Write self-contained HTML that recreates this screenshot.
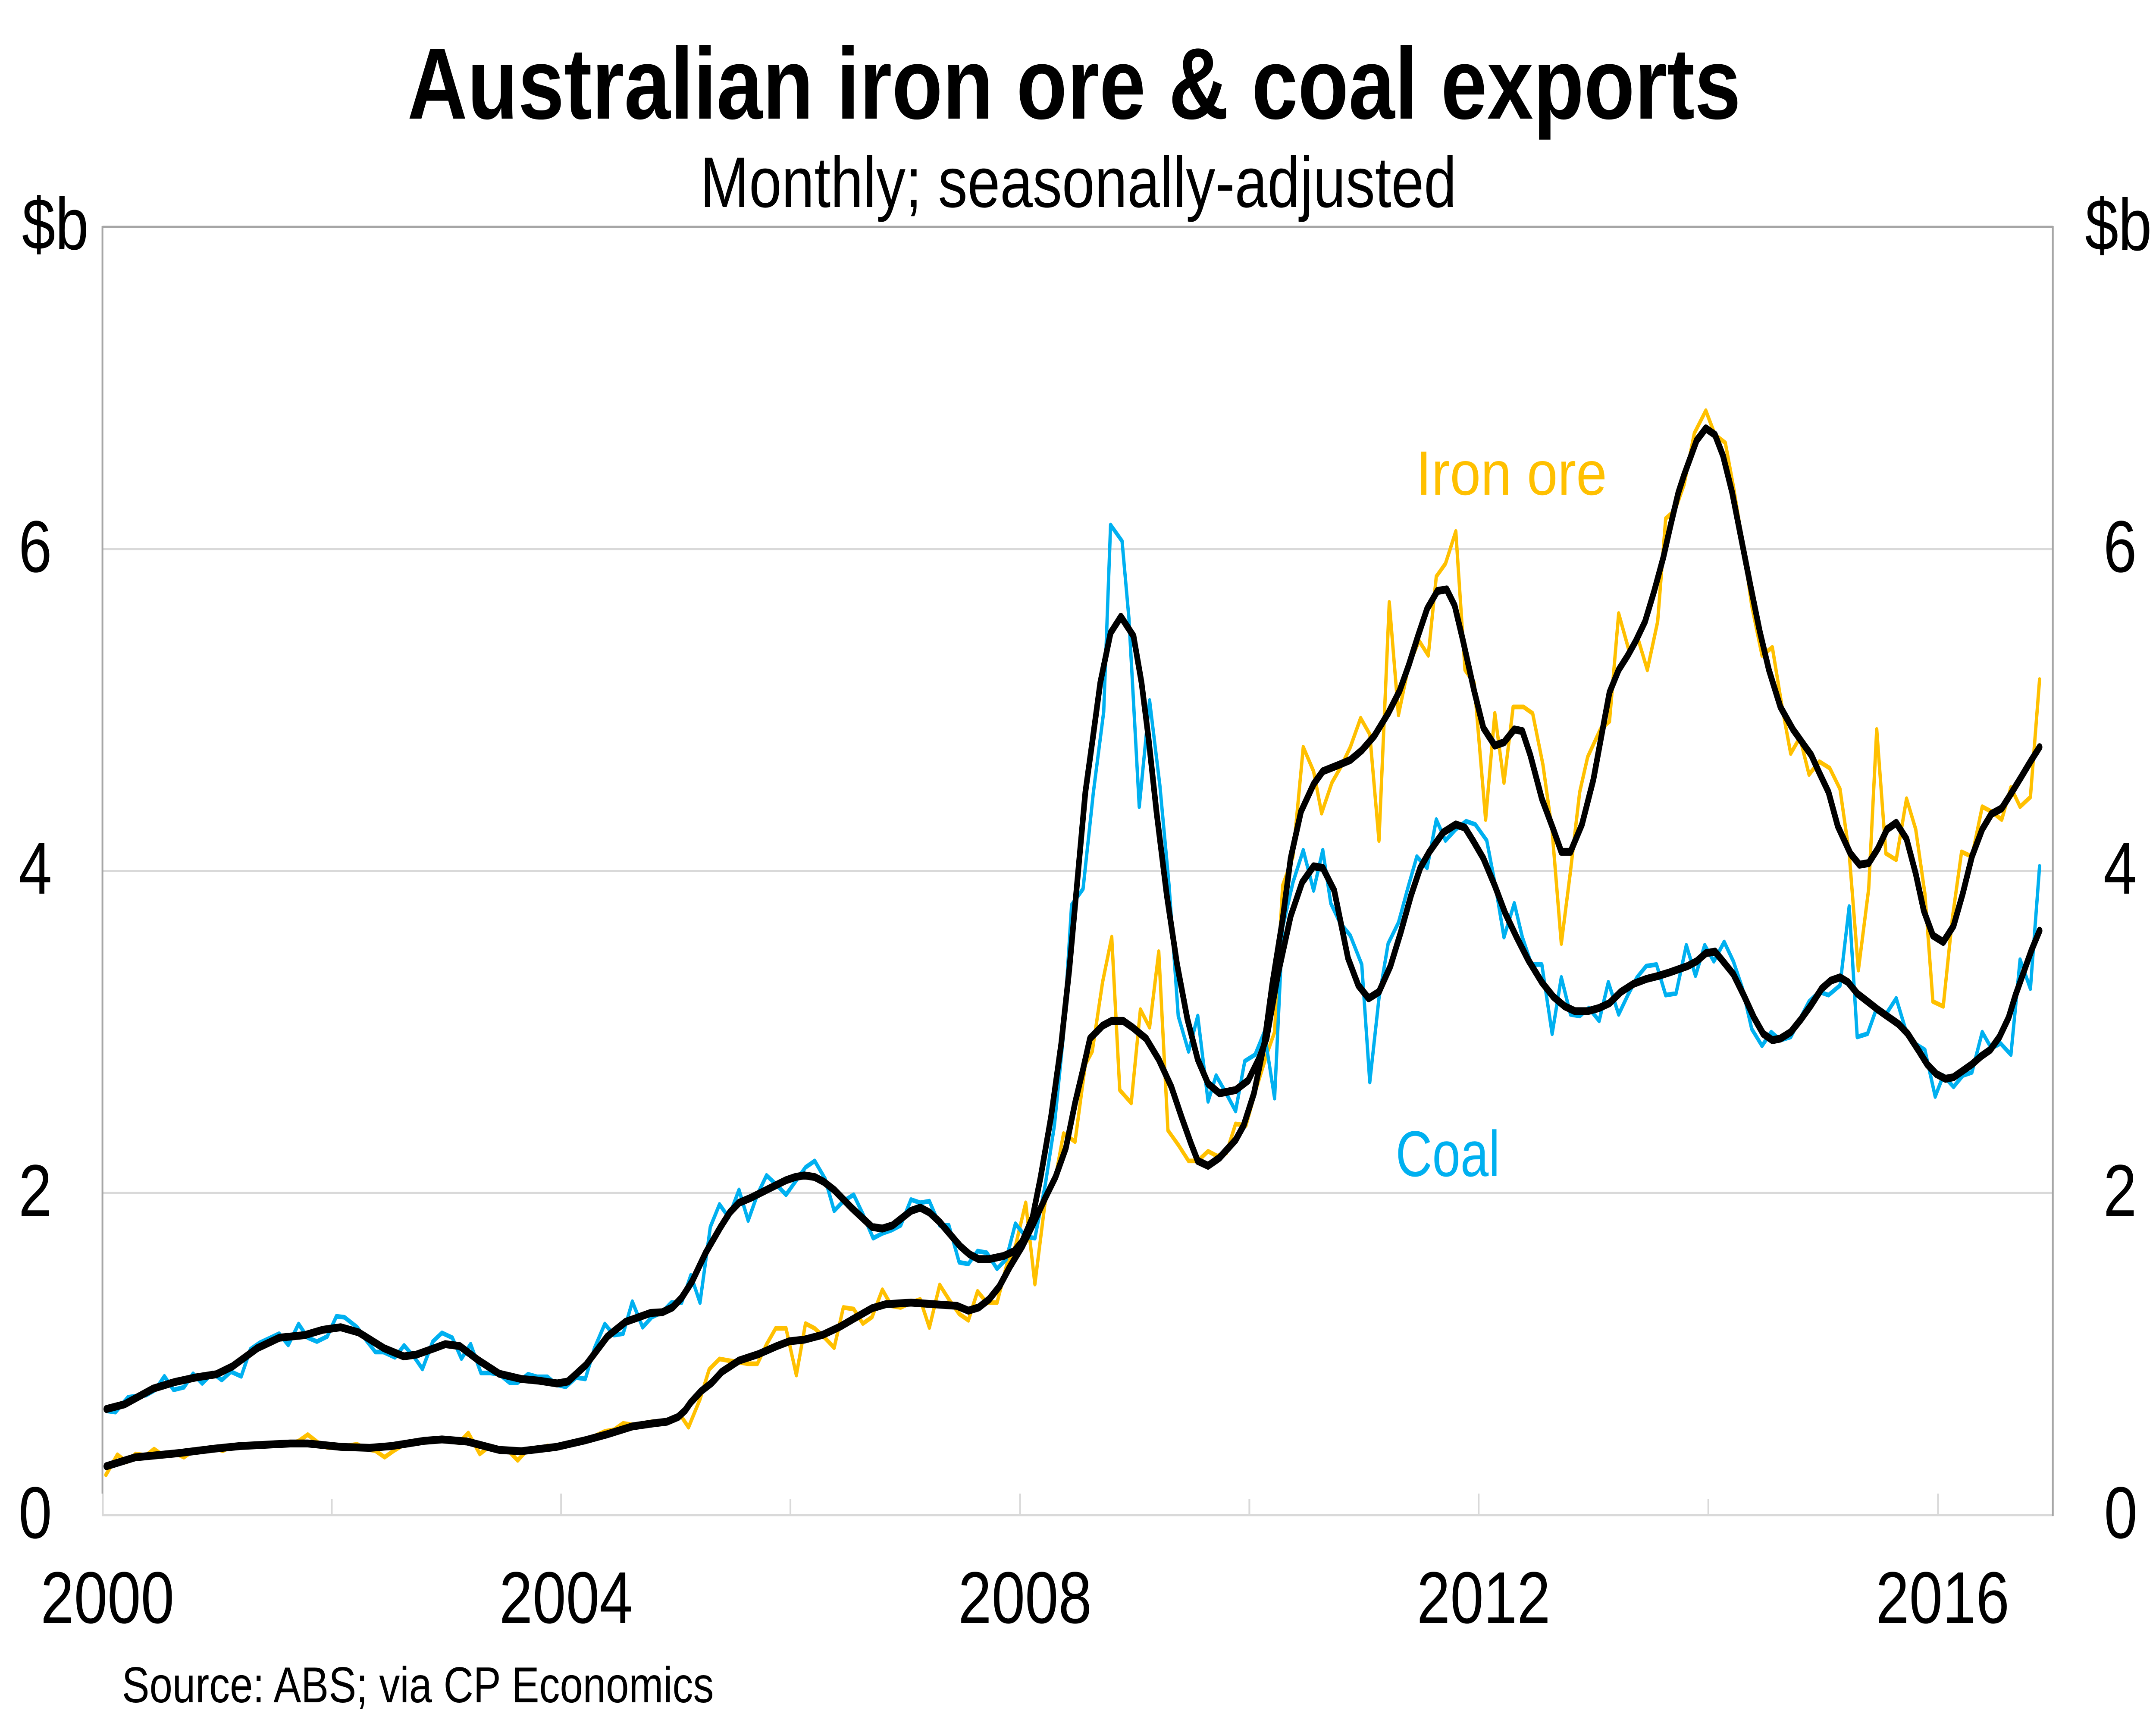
<!DOCTYPE html>
<html>
<head>
<meta charset="utf-8">
<style>
  html, body { margin: 0; padding: 0; background: #ffffff; width: 100%; height: 100%; overflow: hidden; }
  svg { display: block; width: 100vw; height: 100vh; }
  text { font-family: "Liberation Sans", Arial, sans-serif; }
</style>
</head>
<body>
<svg xmlns="http://www.w3.org/2000/svg" viewBox="0 0 6102 3988" preserveAspectRatio="none">
  <rect x="0" y="0" width="6102" height="3988" fill="#ffffff"/>

  <!-- Title -->
  <text x="3040" y="275" font-size="235" font-weight="bold" text-anchor="middle" fill="#000">Australian iron ore &amp; coal exports</text>
  <text x="3052" y="480" font-size="166" text-anchor="middle" fill="#000">Monthly; seasonally-adjusted</text>

  <!-- Gridlines -->
  <g stroke="#d9d9d9" stroke-width="5">
    <line x1="290" y1="1273" x2="5810" y2="1273"/>
    <line x1="290" y1="2019.5" x2="5810" y2="2019.5"/>
    <line x1="290" y1="2766" x2="5810" y2="2766"/>
    <line x1="288" y1="3513" x2="5812" y2="3513"/>
  </g>

  <!-- Ticks -->
  <g stroke="#d9d9d9" stroke-width="5">
    <line x1="291" y1="3463" x2="291" y2="3513"/>
    <line x1="939" y1="3476" x2="939" y2="3513"/>
    <line x1="1588" y1="3463" x2="1588" y2="3513"/>
    <line x1="2237" y1="3476" x2="2237" y2="3513"/>
    <line x1="2887" y1="3463" x2="2887" y2="3513"/>
    <line x1="3536" y1="3476" x2="3536" y2="3513"/>
    <line x1="4185" y1="3463" x2="4185" y2="3513"/>
    <line x1="4835" y1="3476" x2="4835" y2="3513"/>
    <line x1="5485" y1="3463" x2="5485" y2="3513"/>
  </g>

  <!-- Plot border -->
  <g stroke="#a6a6a6" stroke-width="5" fill="none">
    <line x1="290" y1="526" x2="5810" y2="526"/>
    <line x1="290" y1="524" x2="290" y2="3463"/>
    <line x1="5810" y1="524" x2="5810" y2="3515"/>
  </g>

  <!-- Axis labels left -->
  <g font-size="170" fill="#000">
    <text x="62" y="578">$b</text>
    <text x="147" y="1326" text-anchor="end">6</text>
    <text x="147" y="2072" text-anchor="end">4</text>
    <text x="147" y="2819" text-anchor="end">2</text>
    <text x="147" y="3566" text-anchor="end">0</text>
  </g>
  <!-- Axis labels right -->
  <g font-size="170" fill="#000">
    <text x="5901" y="580">$b</text>
    <text x="5953" y="1326">6</text>
    <text x="5953" y="2072">4</text>
    <text x="5953" y="2819">2</text>
    <text x="5955" y="3566">0</text>
  </g>
  <!-- Year labels -->
  <g font-size="170" fill="#000" text-anchor="middle">
    <text x="304" y="3763">2000</text>
    <text x="1602" y="3763">2004</text>
    <text x="2901" y="3763">2008</text>
    <text x="4199" y="3763">2012</text>
    <text x="5498" y="3763">2016</text>
  </g>

  <!-- Source -->
  <text x="345" y="3947" font-size="117" fill="#000">Source: ABS; via CP Economics</text>

  <!-- Series labels -->
  <text x="4008" y="1147" font-size="145" fill="#ffc000" textLength="540" lengthAdjust="spacingAndGlyphs">Iron ore</text>
  <text x="3950" y="2727" font-size="150" fill="#00b0f0" textLength="295" lengthAdjust="spacingAndGlyphs">Coal</text>

  <!-- Data: x = 290 + 324.6*(t-2000), y = 3513 - 373.3*v -->
  <g transform="matrix(324.6 0 0 -373.3 290 3513)" fill="none" stroke-linejoin="round" stroke-linecap="round">
    <!-- Iron ore raw -->
    <polyline stroke="#ffc000" stroke-width="0.029" points="
0.03,0.25 0.13,0.375 0.21,0.33 0.29,0.38 0.38,0.37 0.45,0.41 0.53,0.37 0.62,0.39 0.71,0.36 0.79,0.40 0.88,0.41 0.96,0.42
1.05,0.40 1.13,0.43 1.21,0.42 1.29,0.44 1.38,0.43 1.46,0.44 1.54,0.45 1.63,0.44 1.71,0.46 1.79,0.50 1.88,0.45 1.96,0.42
2.04,0.42 2.13,0.43 2.22,0.44 2.30,0.41 2.38,0.40 2.46,0.36 2.54,0.40 2.63,0.44 2.71,0.46 2.79,0.45 2.88,0.46 2.96,0.47
3.04,0.46 3.11,0.45 3.19,0.51 3.29,0.38 3.38,0.43 3.46,0.41 3.54,0.40 3.62,0.34 3.71,0.41 3.79,0.40 3.88,0.43 3.96,0.42
4.04,0.44 4.13,0.45 4.21,0.47 4.29,0.49 4.38,0.52 4.46,0.53 4.54,0.57 4.63,0.56 4.71,0.57 4.79,0.58 4.88,0.57 4.96,0.60
5.04,0.62 5.11,0.546 5.21,0.72 5.29,0.905 5.38,0.97 5.46,0.96 5.55,0.95 5.63,0.94 5.71,0.94 5.79,1.06 5.87,1.16 5.96,1.16
6.05,0.87 6.13,1.19 6.21,1.16 6.30,1.10 6.38,1.04 6.46,1.29 6.55,1.28 6.63,1.19 6.71,1.23 6.80,1.40 6.88,1.30 6.96,1.29
7.05,1.32 7.13,1.34 7.21,1.165 7.30,1.43 7.38,1.34 7.47,1.25 7.55,1.21 7.63,1.39 7.71,1.32 7.80,1.32 7.89,1.57 7.96,1.67
8.05,1.94 8.13,1.435 8.22,1.95 8.31,2.10 8.38,2.37 8.48,2.32 8.57,2.80 8.63,2.88 8.72,3.31 8.80,3.59 8.87,2.64 8.97,2.56
9.05,3.14 9.13,3.03 9.21,3.50 9.29,2.39 9.38,2.30 9.47,2.20 9.55,2.20 9.64,2.26 9.72,2.23 9.80,2.25 9.88,2.43 9.97,2.42
10.06,2.65 10.16,2.88 10.22,3.00 10.29,3.91 10.38,4.09 10.47,4.77 10.56,4.62 10.63,4.36 10.72,4.55 10.80,4.65 10.88,4.77 10.97,4.95
11.05,4.85 11.13,4.19 11.22,5.67 11.30,4.97 11.39,5.28 11.48,5.43 11.56,5.34 11.63,5.83 11.71,5.91 11.80,6.11 11.88,5.25 11.96,5.17
12.06,4.32 12.14,4.98 12.22,4.55 12.30,5.02 12.39,5.02 12.47,4.98 12.56,4.66 12.64,4.25 12.72,3.55 12.80,4.00 12.88,4.49 12.95,4.71
13.06,4.88 13.14,4.93 13.22,5.60 13.31,5.37 13.39,5.44 13.47,5.25 13.56,5.55 13.63,6.19 13.71,6.24 13.79,6.40 13.88,6.72 13.98,6.86
14.06,6.71 14.15,6.66 14.22,6.39 14.31,6.00 14.38,5.65 14.47,5.34 14.56,5.39 14.64,5.04 14.72,4.73 14.80,4.83 14.88,4.60 14.97,4.68
15.06,4.64 15.15,4.51 15.23,4.11 15.31,3.385 15.40,3.89 15.47,4.88 15.55,4.11 15.64,4.07 15.73,4.45 15.81,4.26 15.89,3.86 15.96,3.19
16.05,3.16 16.13,3.71 16.21,4.12 16.30,4.09 16.39,4.40 16.47,4.37 16.56,4.32 16.64,4.52 16.72,4.40 16.81,4.46 16.89,5.19"/>

    <!-- Coal raw -->
    <polyline stroke="#00b0f0" stroke-width="0.029" points="
0.034,0.648 0.113,0.640 0.223,0.732 0.30,0.74 0.38,0.745 0.46,0.778 0.54,0.862 0.62,0.778 0.71,0.794 0.79,0.878 0.87,0.818 0.96,0.883
1.04,0.839 1.12,0.891 1.21,0.862 1.29,1.030 1.37,1.07 1.46,1.10 1.54,1.127 1.62,1.057 1.71,1.187 1.79,1.102 1.87,1.078 1.96,1.110
2.04,1.235 2.11,1.229 2.22,1.167 2.30,1.086 2.38,1.013 2.45,1.013 2.55,0.980 2.63,1.054 2.72,0.980 2.79,0.908 2.88,1.078 2.96,1.132
3.05,1.102 3.13,0.972 3.21,1.062 3.30,0.883 3.38,0.883 3.46,0.875 3.55,0.823 3.62,0.823 3.71,0.875 3.79,0.859 3.88,0.859 3.96,0.810
4.04,0.797 4.13,0.855 4.21,0.846 4.29,1.037 4.38,1.187 4.46,1.118 4.54,1.127 4.62,1.326 4.71,1.167 4.79,1.23 4.88,1.26 4.96,1.32
5.05,1.32 5.13,1.49 5.21,1.32 5.30,1.79 5.38,1.93 5.46,1.85 5.55,2.02 5.63,1.83 5.71,1.99 5.79,2.11 5.88,2.05 5.96,1.99
6.04,2.07 6.13,2.16 6.21,2.20 6.30,2.09 6.38,1.89 6.46,1.95 6.55,1.99 6.63,1.87 6.72,1.72 6.80,1.75 6.88,1.77 6.96,1.80
7.05,1.96 7.13,1.94 7.21,1.95 7.30,1.80 7.38,1.80 7.47,1.57 7.55,1.56 7.63,1.64 7.71,1.63 7.80,1.53 7.88,1.59 7.96,1.81
8.05,1.73 8.13,1.72 8.22,2.05 8.30,2.42 8.38,2.99 8.45,3.79 8.55,3.89 8.64,4.49 8.73,4.99 8.79,6.15 8.89,6.05 8.95,5.57
9.04,4.40 9.13,5.06 9.22,4.53 9.30,3.91 9.38,3.10 9.47,2.88 9.55,3.10 9.64,2.57 9.71,2.73 9.79,2.63 9.88,2.51 9.96,2.82
10.05,2.86 10.13,3.00 10.22,2.59 10.29,3.65 10.38,3.93 10.47,4.13 10.56,3.88 10.64,4.13 10.71,3.80 10.79,3.68 10.88,3.60 10.98,3.42
11.05,2.69 11.13,3.21 11.21,3.55 11.30,3.68 11.38,3.89 11.46,4.09 11.55,4.02 11.63,4.32 11.71,4.19 11.80,4.26 11.89,4.31 11.97,4.29
12.07,4.19 12.15,3.89 12.22,3.59 12.31,3.80 12.38,3.59 12.46,3.42 12.55,3.42 12.64,2.99 12.72,3.34 12.80,3.11 12.88,3.10 12.96,3.15
13.05,3.07 13.13,3.31 13.22,3.11 13.30,3.23 13.38,3.34 13.46,3.41 13.55,3.42 13.63,3.23 13.72,3.24 13.81,3.54 13.89,3.35 13.97,3.54
14.05,3.44 14.14,3.56 14.22,3.44 14.30,3.27 14.38,3.02 14.47,2.915 14.55,3.00 14.63,2.95 14.72,2.97 14.80,3.08 14.88,3.19 14.97,3.25
15.05,3.23 15.15,3.29 15.23,3.78 15.30,2.97 15.39,2.99 15.47,3.15 15.55,3.11 15.64,3.21 15.72,3.02 15.80,2.93 15.89,2.89 15.98,2.60
16.05,2.73 16.14,2.66 16.22,2.73 16.30,2.75 16.39,3.00 16.47,2.90 16.55,2.93 16.64,2.86 16.72,3.45 16.81,3.27 16.89,4.03"/>

    <!-- Iron ore trend -->
    <polyline stroke="#000" stroke-width="0.049" points="
0.034,0.304 0.285,0.359 0.663,0.385 0.977,0.413 1.197,0.429 1.637,0.445 1.79,0.445 2.08,0.424 2.33,0.418 2.52,0.429 2.80,0.461 2.96,0.470
3.18,0.457 3.46,0.405 3.65,0.397 3.96,0.424 4.21,0.465 4.40,0.502 4.62,0.551 4.80,0.570 4.92,0.58 5.02,0.61 5.08,0.65 5.13,0.70
5.22,0.77 5.31,0.82 5.40,0.89 5.55,0.96 5.72,1.00 5.88,1.05 5.99,1.08 6.12,1.09 6.28,1.12 6.43,1.17 6.55,1.22 6.71,1.285 6.83,1.31
7.05,1.32 7.25,1.31 7.45,1.30 7.55,1.27 7.64,1.29 7.73,1.34 7.82,1.42 7.91,1.54 8.02,1.67 8.11,1.80 8.22,1.97 8.31,2.10 8.40,2.28
8.48,2.56 8.55,2.77 8.61,2.96 8.72,3.04 8.80,3.07 8.90,3.07 8.98,3.03 9.10,2.96 9.21,2.83 9.32,2.66 9.41,2.47 9.49,2.31 9.55,2.20
9.64,2.17 9.74,2.22 9.88,2.33 9.95,2.42 10.04,2.62 10.13,2.93 10.20,3.30 10.29,3.70 10.36,4.08 10.45,4.37 10.56,4.54 10.64,4.62
10.78,4.66 10.88,4.69 10.98,4.75 11.09,4.84 11.21,4.98 11.31,5.12 11.39,5.28 11.47,5.46 11.55,5.63 11.64,5.74 11.72,5.75 11.79,5.65
11.86,5.44 11.96,5.12 12.04,4.89 12.14,4.78 12.22,4.80 12.31,4.88 12.38,4.87 12.45,4.72 12.55,4.45 12.65,4.26 12.72,4.12 12.80,4.12
12.90,4.29 13.00,4.57 13.08,4.88 13.14,5.11 13.22,5.25 13.30,5.34 13.37,5.43 13.45,5.55 13.53,5.74 13.61,5.95 13.67,6.14 13.74,6.35
13.79,6.46 13.90,6.675 13.98,6.75 14.06,6.71 14.13,6.58 14.21,6.35 14.29,6.06 14.37,5.77 14.45,5.49 14.53,5.25 14.63,5.02 14.74,4.88
14.90,4.72 14.97,4.61 15.05,4.49 15.13,4.28 15.24,4.11 15.32,4.04 15.40,4.05 15.48,4.14 15.56,4.26 15.64,4.30 15.73,4.20 15.81,3.985
15.88,3.755 15.96,3.60 16.05,3.56 16.14,3.66 16.22,3.86 16.30,4.09 16.39,4.26 16.47,4.355 16.56,4.39 16.64,4.48 16.73,4.585 16.81,4.68 16.89,4.77"/>

    <!-- Coal trend -->
    <polyline stroke="#000" stroke-width="0.049" points="
0.034,0.659 0.191,0.688 0.443,0.786 0.631,0.827 0.82,0.856 0.993,0.875 1.134,0.924 1.35,1.037 1.543,1.102 1.763,1.118 1.92,1.151 2.077,1.167
2.234,1.135 2.454,1.037 2.627,0.986 2.737,0.997 2.895,1.037 2.989,1.062 3.115,1.050 3.272,0.965 3.46,0.878 3.649,0.846 3.806,0.835 3.964,0.818
4.058,0.830 4.215,0.932 4.403,1.110 4.56,1.200 4.78,1.256 4.88,1.26 4.97,1.29 5.05,1.35 5.14,1.45 5.26,1.63 5.39,1.79 5.47,1.88
5.55,1.94 5.65,1.97 5.79,2.02 5.96,2.08 6.04,2.10 6.12,2.11 6.21,2.10 6.29,2.07 6.38,2.02 6.53,1.91 6.62,1.85 6.71,1.79 6.80,1.78
6.89,1.80 7.05,1.89 7.13,1.91 7.21,1.88 7.30,1.82 7.48,1.67 7.56,1.62 7.64,1.59 7.73,1.59 7.86,1.61 7.95,1.64 8.02,1.70 8.11,1.85
8.18,2.10 8.27,2.47 8.36,2.93 8.43,3.39 8.50,3.94 8.57,4.49 8.63,4.80 8.70,5.17 8.79,5.48 8.88,5.58 8.99,5.46 9.06,5.17 9.12,4.83
9.19,4.37 9.28,3.85 9.37,3.42 9.46,3.08 9.55,2.83 9.64,2.68 9.74,2.62 9.88,2.64 9.99,2.70 10.08,2.83 10.15,2.96 10.25,3.36 10.36,3.72
10.46,3.93 10.56,4.03 10.64,4.02 10.74,3.88 10.86,3.46 10.95,3.29 11.04,3.21 11.13,3.25 11.23,3.41 11.32,3.62 11.41,3.85 11.49,4.02
11.57,4.12 11.69,4.24 11.80,4.29 11.88,4.27 11.95,4.19 12.04,4.08 12.14,3.91 12.23,3.74 12.33,3.59 12.43,3.45 12.55,3.31 12.65,3.22
12.75,3.16 12.84,3.13 12.95,3.13 13.05,3.15 13.14,3.18 13.24,3.25 13.35,3.30 13.46,3.33 13.57,3.35 13.66,3.37 13.82,3.41 13.90,3.44
13.98,3.49 14.06,3.50 14.13,3.44 14.22,3.36 14.31,3.23 14.40,3.09 14.48,2.99 14.56,2.95 14.63,2.96 14.72,3.00 14.81,3.08 14.90,3.17
14.99,3.27 15.07,3.32 15.15,3.34 15.22,3.31 15.30,3.24 15.39,3.19 15.48,3.14 15.56,3.10 15.66,3.05 15.74,2.99 15.84,2.88 15.91,2.80
15.99,2.74 16.07,2.71 16.14,2.72 16.22,2.76 16.30,2.80 16.38,2.85 16.46,2.89 16.54,2.97 16.62,3.09 16.68,3.23 16.75,3.37 16.82,3.51 16.89,3.63"/>
  </g>
</svg>
</body>
</html>
